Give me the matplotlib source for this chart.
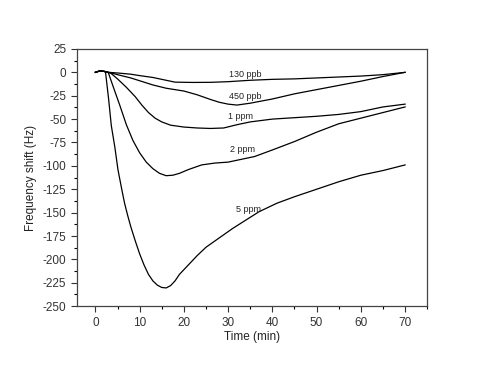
import matplotlib
matplotlib.use("Agg")
import matplotlib.pyplot as plt
from matplotlib.ticker import MultipleLocator

plt.rcParams['font.family'] = ['Liberation Sans', 'DejaVu Sans']
plt.rcParams['axes.unicode_minus'] = False

# curvas (tempo em min, deslocamento em Hz)
t_130ppb = [0, 1, 2, 3, 5, 8, 10, 13, 16, 18, 22, 26, 30, 35, 40, 45, 50, 55, 60, 65, 70]
f_130ppb = [0, 1.5, 1, 0, -0.7, -2, -3.5, -5.5, -8.5, -10.5, -10.8, -10.7, -10, -8.5, -7.5, -7, -6, -5, -4, -2.5, 0]

t_450ppb = [0, 1, 2, 3, 5, 8, 10, 13, 16, 20, 23, 26, 28, 30, 32, 35, 40, 45, 50, 55, 60, 65, 70]
f_450ppb = [0, 1.5, 1, 0, -2.5, -6, -9, -13.5, -17, -20, -24, -29, -32, -34, -35, -33, -28.5, -23, -18.5, -14, -9.5, -4.5, 0]

t_1ppm = [0, 1, 2, 3.5, 5, 7, 9, 10.5, 12, 13.5, 15, 17, 20, 23, 26, 29, 32, 35, 40, 45, 50, 55, 60, 65, 70]
f_1ppm = [0, 1.5, 1, -1, -7, -16, -26, -35, -43, -49, -53, -56.5, -58.5, -59.5, -60, -59.5, -56, -53, -50, -48.5, -47, -45, -42, -37, -34]

t_2ppm = [0, 1, 2, 2.9, 4, 5.5, 7, 8.5, 10, 11.5, 13, 14.5, 16, 17.5, 19, 21, 24, 27, 30, 33, 36, 40, 45, 50, 55, 60, 65, 70]
f_2ppm = [0, 1.5, 1, 0, -15, -35, -56, -73, -86, -96, -103, -108, -110.5, -110, -108, -104, -99, -97, -96, -93, -90, -83, -74, -64, -55, -49, -43, -37]

t_5ppm = [0, 1, 2, 2.3, 3, 3.6, 4.4, 5.1, 6, 6.6, 7.3, 8, 9, 10, 11, 12, 13, 14, 15, 16, 17, 18, 19, 21, 23, 25, 28, 31, 34, 37, 41, 45, 50, 55, 60, 65, 70]
f_5ppm = [0, 1.5, 1, 0, -29, -57, -80, -104, -126, -140, -153, -165, -180, -194, -206, -216, -223, -227.5, -230, -230.5, -228, -223, -216, -206, -196, -187, -177, -167, -158, -149, -140, -133, -125, -117, -110, -105, -99]

rotulos = ['130 ppb', '450 ppb', '1 ppm', '2 ppm', '5 ppm']
pos_rotulos_t = [33.9, 33.9, 32.8, 33.2, 34.5]
pos_rotulos_f = [-2.5, -26, -47.5, -82, -147]

fig = plt.figure(figsize=(4.8, 3.68), dpi=100)
ax = fig.add_axes([0.160, 0.168, 0.730, 0.699])

for t, f in [(t_130ppb, f_130ppb), (t_450ppb, f_450ppb), (t_1ppm, f_1ppm),
             (t_2ppm, f_2ppm), (t_5ppm, f_5ppm)]:
    ax.plot(t, f, color='black', linewidth=0.9)

for txt, x, y in zip(rotulos, pos_rotulos_t, pos_rotulos_f):
    ax.text(x, y, txt, fontsize=6.5, ha='center', va='center', color='#222222')

ax.set_xlim(-4.2, 75)
ax.set_ylim(-250, 25)
ax.xaxis.set_major_locator(MultipleLocator(10))
ax.xaxis.set_minor_locator(MultipleLocator(5))
ax.yaxis.set_major_locator(MultipleLocator(25))
ax.yaxis.set_minor_locator(MultipleLocator(12.5))
ax.set_xticks(range(0, 71, 10))

ax.tick_params(which='major', direction='out', length=4, width=0.8, labelsize=8.5, colors='#333333')
ax.tick_params(which='minor', direction='out', length=2, width=0.8)
for s in ax.spines.values():
    s.set_color('#444444')
    s.set_linewidth(0.9)

ax.set_xlabel('Time (min)', fontsize=8.5, color='#222222', labelpad=2)
ax.set_ylabel('Frequency shift (Hz)', fontsize=8.5, color='#222222', labelpad=4)

fig.savefig('out.png', dpi=100)
